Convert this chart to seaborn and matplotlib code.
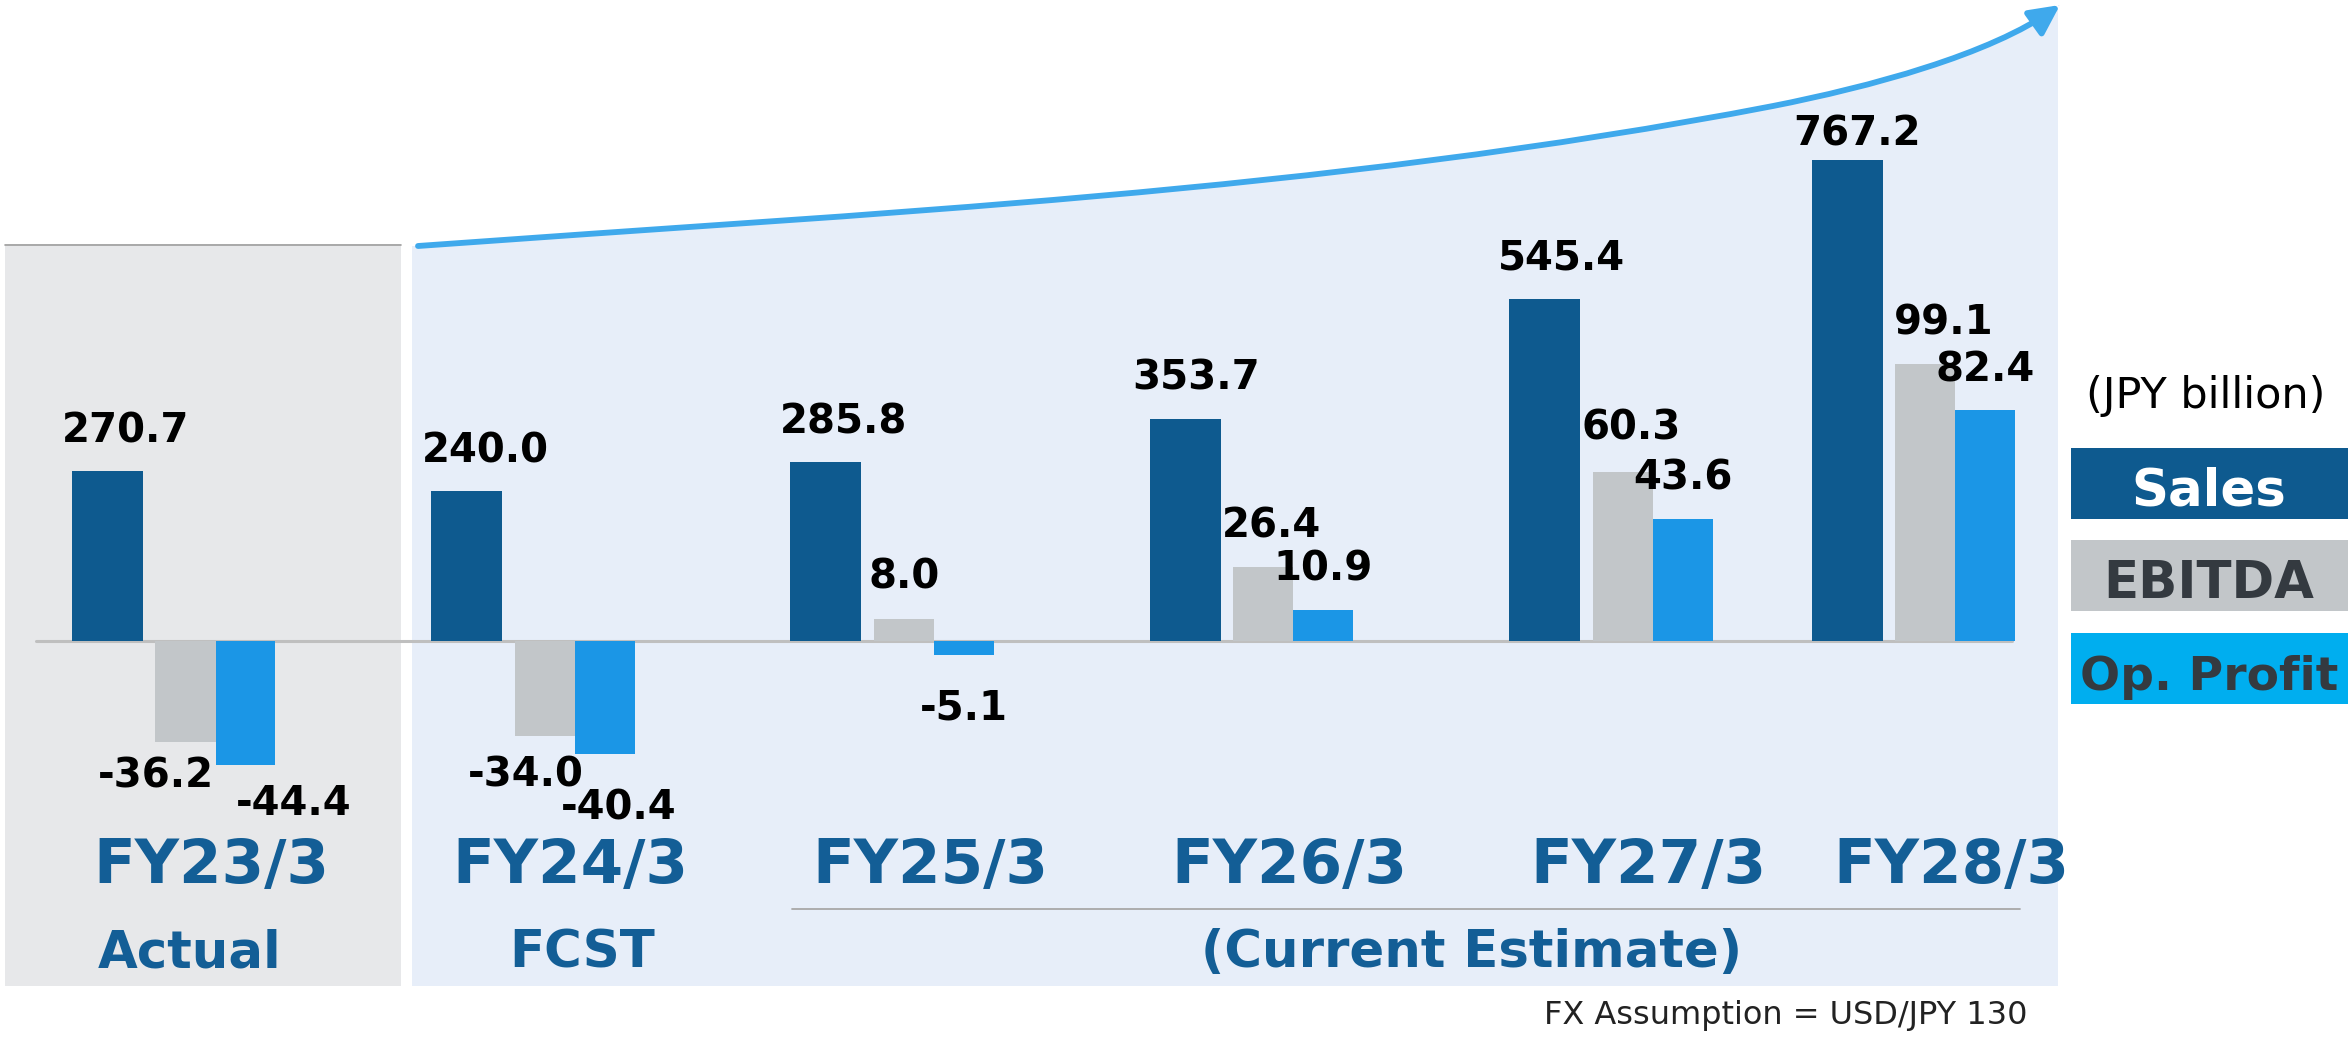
import numpy as np
import seaborn as sns
import matplotlib.pyplot as plt
from matplotlib.patches import Rectangle, PathPatch, FancyArrowPatch
from matplotlib.path import Path
from matplotlib.transforms import blended_transform_factory

# data
years = ["FY23/3", "FY24/3", "FY25/3", "FY26/3", "FY27/3", "FY28/3"]
sales = [270.7, 240.0, 285.8, 353.7, 545.4, 767.2]
ebitda = [-36.2, -34.0, 8.0, 26.4, 60.3, 99.1]
op_profit = [-44.4, -40.4, -5.1, 10.9, 43.6, 82.4]
stages = ["Actual", "FCST", "(Current Estimate)"]
legend_labels = ["Sales", "EBITDA", "Op. Profit"]
unit_note = "(JPY billion)"
fx_note = "FX Assumption = USD/JPY 130"

# colours
C_SALES = "#0E5A8F"
C_EBITDA = "#C2C6C9"
C_OP = "#1B96E6"
C_TEXT = "#135E96"

sns.set_theme(style="white")
plt.rcParams["font.family"] = ["DejaVu Sans"]

W, H = 2348, 1038
fig = plt.figure(figsize=(W / 100, H / 100), dpi=100)

# background layer, pixel coordinates (origin top-left)
bg = fig.add_axes([0, 0, 1, 1], zorder=0)
bg.set_xlim(0, W)
bg.set_ylim(H, 0)
bg.set_axis_off()

# "Actual" panel
bg.add_patch(Rectangle((5, 244), 396, 742, facecolor="#E7E8EA", edgecolor="none"))
bg.plot([5, 401], [244.5, 244.5], color="#9E9E9E", lw=1.2)

# growth curve + light blue panel underneath
curve_pts = [(418, 246), (870, 213), (1321, 193), (1773, 106),
             (1869, 87), (1990, 55), (2060, 5)]
curve_codes = [Path.MOVETO] + [Path.CURVE4] * 6
panel = Path([(412, 986), (412, 246)] + curve_pts + [(2058, 5), (2058, 986), (412, 986)],
             [Path.MOVETO, Path.LINETO, Path.LINETO] + [Path.CURVE4] * 6
             + [Path.LINETO, Path.LINETO, Path.CLOSEPOLY])
bg.add_patch(PathPatch(panel, facecolor="#E7EEF9", edgecolor="none"))
bg.add_patch(FancyArrowPatch(path=Path(curve_pts, curve_codes),
                             arrowstyle="-|>,head_length=1.2,head_width=0.6",
                             mutation_scale=15, color="#3FA9EC", lw=4.2))

# zero line and estimate underline
bg.plot([36, 2012], [641, 641], color="#BFBFBF", lw=2.2)
bg.plot([792, 2020], [908.5, 908.5], color="#A8A8A8", lw=1.3)

# bar layers: sales on one scale, profits on another, both with zero at the same height
ax_s = fig.add_axes([0, 0, 1, 1], zorder=2)
ax_p = ax_s.twinx()
ax_p.set_zorder(3)

zero_px = 641          # from top
sales_px = 0.627       # pixels per JPY bn
profit_px = 2.80

group_pos = np.array([0, 1, 2, 3, 4, 4.842])
native = np.diff(group_pos).min()
group_px = 359.3

sns.barplot(x=group_pos - 0.1844, y=sales, native_scale=True, orient="x",
            width=0.1976 / native, color=C_SALES, saturation=1, linewidth=0,
            errorbar=None, ax=ax_s)
sns.barplot(x=group_pos + 0.033, y=ebitda, native_scale=True, orient="x",
            width=0.1675 / native, color=C_EBITDA, saturation=1, linewidth=0,
            errorbar=None, ax=ax_p)
sns.barplot(x=group_pos + 0.200, y=op_profit, native_scale=True, orient="x",
            width=0.1667 / native, color=C_OP, saturation=1, linewidth=0,
            errorbar=None, ax=ax_p)

x0 = -173.65 / group_px
ax_s.set_xlim(x0, x0 + W / group_px)
ax_s.set_ylim(-(H - zero_px) / sales_px, zero_px / sales_px)
ax_p.set_ylim(-(H - zero_px) / profit_px, zero_px / profit_px)
ax_s.set_axis_off()
ax_p.set_axis_off()

# value labels (offsets in pixels from the bar end)
val_kw = dict(textcoords="offset pixels", ha="center", va="baseline",
              fontsize=29, fontweight="bold", color="black")
sales_off = [(18, 43), (19, 43), (18, 43), (11, 44), (17, 44), (10, 29)]
ebitda_off = [(-30, -31), (-19, -36), (0, 45), (8, 44), (8, 47), (18, 44)]
op_off = [(48, -35), (14, -51), (0, -50), (0, 44), (0, 44), (0, 43)]
for i in range(len(years)):
    dx, dy = sales_off[i]
    ax_s.annotate(f"{sales[i]:.1f}", (group_pos[i] - 0.1844, sales[i]),
                  xytext=(dx, dy - 14.5), **val_kw)
    dx, dy = ebitda_off[i]
    ax_p.annotate(f"{ebitda[i]:.1f}", (group_pos[i] + 0.033, ebitda[i]),
                  xytext=(dx, dy - 14.5), **val_kw)
    dx, dy = op_off[i]
    ax_p.annotate(f"{op_profit[i]:.1f}", (group_pos[i] + 0.200, op_profit[i]),
                  xytext=(dx, dy - 14.5), **val_kw)

# category and stage labels: x in group units, y in pixels
tr = blended_transform_factory(ax_s.transData, bg.transData)
for i, yr in enumerate(years):
    ax_s.text(group_pos[i] + 0.105, 883, yr, transform=tr, ha="center",
              va="baseline", fontsize=44, fontweight="bold", color=C_TEXT)
for x, lab in zip([0.045, 1.138, 3.611], stages):
    ax_s.text(x, 967, lab, transform=tr, ha="center", va="baseline",
              fontsize=37, fontweight="bold", color=C_TEXT)

# legend boxes
box_cols = [C_SALES, C_EBITDA, "#00AEEF"]
txt_cols = ["white", "#343A40", "#343A40"]
box_tops = [448, 540, 633]
sizes = [37, 37, 34]
for lab, bc, tc, top, fs in zip(legend_labels, box_cols, txt_cols, box_tops, sizes):
    bg.add_patch(Rectangle((2071, top), 277, 71, facecolor=bc, edgecolor="none"))
    bg.text(2209, top + 57.5, lab, ha="center", va="baseline", fontsize=fs,
            fontweight="bold", color=tc)

bg.text(2206, 408, unit_note, ha="center", va="baseline", fontsize=31, color="black")
bg.text(1786, 1024, fx_note, ha="center", va="baseline", fontsize=23, color="#222222")

fig.savefig("out.png", dpi=100)
